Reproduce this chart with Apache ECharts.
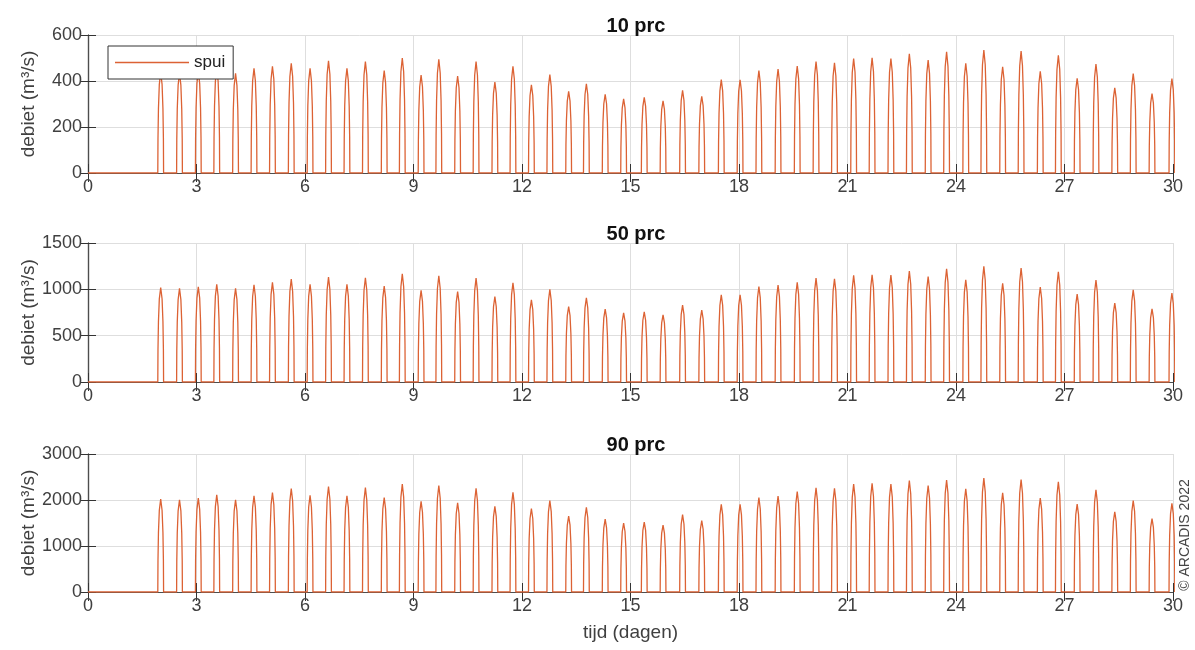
<!DOCTYPE html>
<html>
<head>
<meta charset="utf-8">
<title>spui debiet</title>
<script src="https://cdn.jsdelivr.net/npm/echarts@6/dist/echarts.min.js"></script>
<style>
  html, body { margin: 0; padding: 0; background: #fff; }
  #chart { width: 1195px; height: 650px; }
</style>
</head>
<body>
<div id="chart"></div>
<script>
// tijdstip (dagen) van de top van elke spuipuls
const pulseDays = [2.01, 2.53, 3.05, 3.56, 4.08, 4.59, 5.10, 5.62, 6.14, 6.65,
  7.16, 7.67, 8.19, 8.69, 9.21, 9.70, 10.22, 10.73, 11.25, 11.75,
  12.26, 12.77, 13.29, 13.78, 14.30, 14.81, 15.38, 15.90, 16.44, 16.97,
  17.51, 18.03, 18.55, 19.08, 19.61, 20.13, 20.64, 21.17, 21.68, 22.20,
  22.71, 23.23, 23.74, 24.27, 24.77, 25.29, 25.80, 26.33, 26.83, 27.35,
  27.87, 28.39, 28.90, 29.42, 29.97];

// piekdebiet per puls (m3/s)
const spui10 = [438, 434, 442, 453, 433, 455, 464, 477, 455, 488,
  455, 485, 445, 500, 426, 494, 421, 484, 395, 464,
  383, 428, 355, 388, 342, 322, 329, 314, 359, 333,
  406, 405, 445, 452, 465, 484, 479, 498, 501, 498,
  518, 491, 527, 477, 535, 462, 530, 442, 512, 412,
  474, 370, 432, 345, 410];
const spui50 = [1020, 1010, 1028, 1053, 1010, 1049, 1075, 1111, 1053, 1132,
  1053, 1125, 1035, 1168, 988, 1147, 977, 1121, 923, 1071,
  887, 999, 815, 909, 786, 746, 757, 725, 829, 775,
  941, 941, 1031, 1046, 1075, 1121, 1114, 1150, 1157, 1154,
  1197, 1139, 1222, 1103, 1248, 1064, 1230, 1024, 1190, 948,
  1100, 851, 995, 790, 960];
const spui90 = [2020, 2005, 2040, 2110, 2005, 2090, 2160, 2250, 2100, 2290,
  2090, 2270, 2055, 2345, 1970, 2315, 1940, 2255, 1860, 2165,
  1815, 1985, 1650, 1840, 1585, 1495, 1520, 1455, 1680, 1550,
  1905, 1905, 2050, 2085, 2185, 2265, 2255, 2345, 2360, 2345,
  2425, 2315, 2435, 2245, 2475, 2155, 2445, 2040, 2395, 1910,
  2220, 1745, 1990, 1595, 1930];

// vorm van een puls: tijd t.o.v. de top en fractie van de piek
const pulseOffsets = [-0.08, -0.075, -0.062, -0.038, 0, 0.038, 0.062, 0.075, 0.08];
const pulseFractions = [0, 0.34, 0.64, 0.88, 1, 0.88, 0.64, 0.34, 0];

const panelTitles = ['10 prc', '50 prc', '90 prc'];
const panelMax = [600, 1500, 3000];
const panelStep = [200, 500, 1000];
const panelPeaks = [spui10, spui50, spui90];

const lineColor = '#dc6234';
const textColor = '#404040';
const boxColor = '#4d4d4d';
const gridColor = '#dedede';
const fontFamily = 'Liberation Sans, Arial, sans-serif';

const chart = echarts.init(document.getElementById('chart'));

const buildSeries = (peaks) => {
  const pts = [[0, 0]];
  pulseDays.forEach((t, i) => {
    pulseOffsets.forEach((dt, j) => {
      pts.push([+(t + dt).toFixed(3), peaks[i] * pulseFractions[j]]);
    });
  });
  return pts;
};

const gridTops = [35, 243, 454];
const gridHeights = [138, 139, 138];

const grids = [];
const xAxes = [];
const yAxes = [];
const series = [];
const titles = [];

for (let p = 0; p < 3; p++) {
  grids.push({ left: 88, right: 22, top: gridTops[p], height: gridHeights[p] });
  titles.push({
    text: panelTitles[p],
    left: 631,
    top: gridTops[p] - 24,
    textAlign: 'center',
    textStyle: { fontFamily: fontFamily, fontSize: 20, fontWeight: 'bold', color: '#111' }
  });
  // onderste x-as met labels
  xAxes.push({
    type: 'value', gridIndex: p, min: 0, max: 30, interval: 3, position: 'bottom',
    name: p === 2 ? 'tijd (dagen)' : '',
    nameLocation: 'middle', nameGap: 31,
    nameTextStyle: { fontFamily: fontFamily, fontSize: 19, color: textColor },
    axisLine: { lineStyle: { color: boxColor, width: 1.2 } },
    axisTick: { inside: true, length: 9, lineStyle: { color: '#333' } },
    axisLabel: { fontFamily: fontFamily, fontSize: 18, color: textColor, margin: 5 },
    splitLine: { show: true, lineStyle: { color: gridColor, width: 1 } }
  });
  // bovenste x-as alleen voor de kader en tickjes
  xAxes.push({
    type: 'value', gridIndex: p, min: 0, max: 30, interval: 3, position: 'top',
    axisLine: { lineStyle: { color: boxColor, width: 1.2 } },
    axisTick: { inside: true, length: 9, lineStyle: { color: '#333' } },
    axisLabel: { show: false },
    splitLine: { show: false }
  });
  yAxes.push({
    type: 'value', gridIndex: p, min: 0, max: panelMax[p], interval: panelStep[p], position: 'left',
    name: 'debiet (m³/s)', nameLocation: 'middle', nameGap: 50, nameRotate: 90,
    nameMoveOverlap: false,
    nameTextStyle: { fontFamily: fontFamily, fontSize: 19, color: textColor },
    axisLine: { show: true, lineStyle: { color: boxColor, width: 1.2 } },
    axisTick: { show: true, inside: true, length: 8, lineStyle: { color: '#333' } },
    axisLabel: {
      fontFamily: fontFamily, fontSize: 18, color: textColor, margin: 6,
      formatter: function (v) { return String(v); }
    },
    splitLine: { show: true, lineStyle: { color: gridColor, width: 1 } }
  });
  yAxes.push({
    type: 'value', gridIndex: p, min: 0, max: panelMax[p], interval: panelStep[p], position: 'right',
    axisLine: { show: true, lineStyle: { color: boxColor, width: 1.2 } },
    axisTick: { show: true, inside: true, length: 8, lineStyle: { color: '#333' } },
    axisLabel: { show: false },
    splitLine: { show: false }
  });
  series.push({
    name: 'spui',
    type: 'line',
    xAxisIndex: p * 2,
    yAxisIndex: p * 2,
    data: buildSeries(panelPeaks[p]),
    showSymbol: false,
    symbol: 'none',
    animation: false,
    lineStyle: { color: lineColor, width: 1.3 },
    itemStyle: { color: lineColor }
  });
}

const option = {
  backgroundColor: '#fff',
  animation: false,
  title: titles,
  grid: grids,
  xAxis: xAxes,
  yAxis: yAxes,
  legend: {
    data: [{ name: 'spui', icon: 'rect' }],
    left: 108,
    top: 46,
    orient: 'vertical',
    padding: [8, 8, 8, 7],
    itemWidth: 74,
    itemHeight: 1.5,
    itemGap: 5,
    backgroundColor: '#fff',
    borderColor: '#333',
    borderWidth: 1,
    borderRadius: 0,
    selectedMode: false,
    textStyle: { fontFamily: fontFamily, fontSize: 17, color: '#222' }
  },
  graphic: [{
    type: 'text',
    x: 1185,
    y: 535,
    rotation: Math.PI / 2,
    style: {
      text: '© ARCADIS 2022',
      fill: '#444',
      font: '14px ' + fontFamily,
      align: 'center',
      verticalAlign: 'middle'
    }
  }],
  series: series
};

chart.setOption(option);
window.addEventListener('resize', function () {
  chart.resize();
});
</script>
</body>
</html>
